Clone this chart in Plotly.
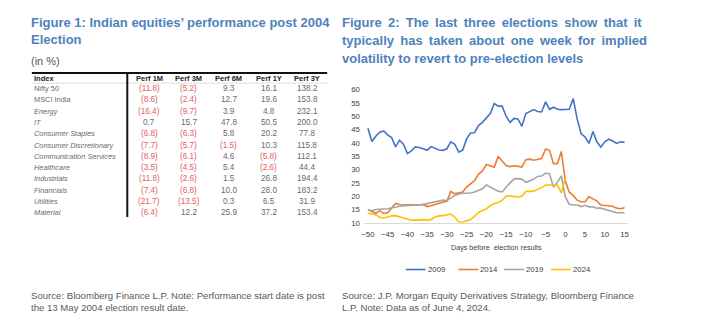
import plotly.graph_objects as go

W, H = 713, 328

# ---------------- Data: Figure 1 table ----------------
table_index = ["Nifty 50", "MSCI India", "Energy", "IT", "Consumer Staples",
               "Consumer Discretionary", "Communication Services", "Healthcare",
               "Industrials", "Financials", "Utilities", "Material"]
table_italic = [False, False, True, True, True, True, True, True, True, True, True, True]
table_columns = ["Perf 1M", "Perf 3M", "Perf 6M", "Perf 1Y", "Perf 3Y"]
perf_1m = [-11.8, -8.6, -16.4, 0.7, -6.8, -7.7, -8.9, -3.5, -11.8, -7.4, -21.7, -6.4]
perf_3m = [-5.2, -2.4, -9.7, 15.7, -6.3, -5.7, -6.1, -4.5, -2.6, -6.8, -13.5, 12.2]
perf_6m = [9.3, 12.7, 3.9, 47.8, 5.8, -1.5, 4.6, 5.4, 1.5, 10.0, 0.3, 25.9]
perf_1y = [16.1, 19.6, 4.8, 50.5, 20.2, 10.3, -5.8, -2.6, 26.8, 28.0, 6.5, 37.2]
perf_3y = [138.2, 153.8, 232.1, 200.0, 77.8, 115.8, 112.1, 44.4, 194.4, 183.2, 31.9, 153.4]

# ---------------- Data: Figure 2 chart ----------------
days = list(range(-50, 16))
days_2024 = list(range(-50, 1))
vol_2009 = [45.5, 40.5, 42.5, 44.0, 44.5, 43.0, 42.0, 38.5, 41.0, 39.5,
            36.0, 37.0, 38.5, 38.3, 37.8, 37.2, 38.6, 37.8, 37.3, 37.2,
            37.8, 40.4, 39.5, 36.5, 37.3, 41.5, 43.7, 43.8, 46.5, 47.7,
            49.5, 51.0, 54.8, 53.8, 53.8, 50.0, 47.7, 49.2, 49.0, 46.2,
            51.0, 51.8, 52.5, 51.8, 51.6, 55.4, 52.6, 53.4, 52.6, 52.5,
            52.5, 52.6, 56.6, 49.0, 43.5, 42.2, 39.8, 44.3, 40.4, 38.4,
            40.4, 41.4, 40.7, 39.8, 40.4, 40.2]
vol_2014 = [14.9, 14.2, 13.6, 14.5, 13.5, 13.8, 15.5, 17.3, 16.9, 16.7,
            16.8, 16.7, 16.6, 16.7, 16.9, 16.1, 16.4, 16.9, 17.3, 17.7,
            18.1, 21.8, 20.9, 21.3, 21.6, 23.4, 24.6, 25.8, 28.2, 29.5,
            31.9, 31.5, 30.9, 34.9, 33.1, 31.5, 31.1, 31.4, 31.2, 30.9,
            33.7, 33.9, 33.5, 33.7, 34.1, 37.7, 37.2, 32.2, 32.2, 36.8,
            25.8, 21.5, 20.3, 18.5, 17.9, 17.9, 19.9, 19.0, 18.2, 16.7,
            16.5, 16.4, 16.2, 15.5, 15.3, 15.7]
vol_2019 = [14.9, 14.5, 15.0, 15.2, 15.2, 15.3, 15.6, 16.1, 16.2, 16.3,
            16.4, 16.6, 16.6, 16.8, 16.9, 17.2, 17.5, 17.7, 18.2, 18.5,
            18.3, 19.2, 20.3, 20.8, 21.1, 21.1, 21.2, 21.6, 22.1, 22.8,
            24.2, 23.4, 22.8, 21.9, 21.6, 23.4, 25.0, 26.4, 26.6, 26.4,
            25.2, 25.8, 26.4, 27.4, 27.6, 28.6, 28.4, 23.4, 25.2, 27.6,
            19.7, 17.0, 16.7, 16.7, 16.1, 16.6, 16.0, 16.0, 15.5, 15.5,
            15.1, 14.7, 14.3, 13.8, 13.8, 13.8]
vol_2024 = [13.6, 13.4, 13.0, 12.1, 11.8, 12.2, 12.6, 12.7, 12.2, 11.8,
            11.2, 11.0, 11.0, 11.2, 11.2, 11.0, 11.2, 12.2, 12.6, 12.7,
            13.0, 13.3, 12.1, 10.4, 10.2, 10.6, 11.2, 12.4, 13.9, 14.6,
            15.3, 16.4, 17.2, 17.6, 18.5, 20.0, 20.1, 19.9, 19.7, 20.0,
            21.8, 21.8, 21.9, 22.6, 23.2, 24.2, 24.2, 24.2, 24.2, 21.2,
            26.8]
series_names = ["2009", "2014", "2019", "2024"]
series_colors = ["#4472C4", "#ED7D31", "#A5A5A5", "#FFC000"]
y_ticks = [10, 15, 20, 25, 30, 35, 40, 45, 50, 55, 60]
x_ticks = [-50, -45, -40, -35, -30, -25, -20, -15, -10, -5, 0, 5, 10, 15]


def px(x):
    return x / W


def py(y):
    return 1 - y / H


TITLE_BLUE = "#4F81BD"
TEXT_GRAY = "#595959"
RED = "#E35D60"
FONT = "Liberation Sans, Arial, sans-serif"

fig = go.Figure()

series_x = [days, days, days, days_2024]
series_y = [vol_2009, vol_2014, vol_2019, vol_2024]
for name, xs, ys, col in zip(series_names, series_x, series_y, series_colors):
    fig.add_trace(go.Scatter(x=xs, y=ys, mode="lines", name=name,
                             line=dict(color=col, width=1.6), showlegend=False))

annotations = []
shapes = []


def text(t, x, y, size, color, anchor="left", family=FONT):
    annotations.append(dict(text=t, x=px(x), y=py(y), xref="paper", yref="paper",
                            xanchor=anchor, yanchor="middle", showarrow=False,
                            borderpad=0, font=dict(family=family, size=size, color=color)))


# ---------- Titles ----------
left_title = ["Figure 1: Indian equities\u2019 performance post 2004", "Election"]
for i, t in enumerate(left_title):
    text("<b>%s</b>" % t, 27, 19 + 18 * i, 13, TITLE_BLUE)
right_title = ["Figure 2: The last three elections show that it",
               "typically has taken about one week for implied",
               "volatility to revert to pre-election levels"]
# emulate the justified paragraph: widen word gaps on the first two lines
gap_extra = ["\u2009", "\u2009", ""]
for i, t in enumerate(right_title):
    t2 = (" " + gap_extra[i]).join(t.split(" "))
    text("<b>%s</b>" % t2, 340, 19 + 18.5 * i, 13, TITLE_BLUE)
text("(in %)", 27, 59, 11, TEXT_GRAY)

# ---------- Footers ----------
left_foot = ["Source: Bloomberg Finance L.P. Note: Performance start date is post",
             "the 13 May 2004 election result date."]
right_foot = ["Source: J.P. Morgan Equity Derivatives Strategy, Bloomberg Finance",
              "L.P. Note: Data as of June 4, 2024."]
for i, t in enumerate(left_foot):
    text(t, 27, 300 + 12.5 * i, 9.6, TEXT_GRAY)
for i, t in enumerate(right_foot):
    text(t, 340, 300 + 12.5 * i, 9.6, TEXT_GRAY)

# ---------- Table ----------
col_centers = [147, 187, 227, 267, 306]
header_y = 76.3
row0_y = 87.0
row_h = 11.6
shapes.append(dict(type="line", xref="paper", yref="paper", x0=px(29), x1=px(326), y0=py(71), y1=py(71),
                   line=dict(color="#111111", width=2)))
shapes.append(dict(type="line", xref="paper", yref="paper", x0=px(29), x1=px(326), y0=py(81.3), y1=py(81.3),
                   line=dict(color="#C8C8C8", width=0.6)))
shapes.append(dict(type="line", xref="paper", yref="paper", x0=px(125), x1=px(125), y0=py(70.5), y1=py(219),
                   line=dict(color="#111111", width=2)))
text("<b>Index</b>", 30, header_y, 7.5, "#222222")
for c, cx in zip(table_columns, col_centers):
    text("<b>%s</b>" % c, cx, header_y, 7.5, "#222222", anchor="center")


def fmt(v):
    return "(%.1f)" % abs(v) if v < 0 else "%.1f" % v


cols = [perf_1m, perf_3m, perf_6m, perf_1y, perf_3y]
for r, name in enumerate(table_index):
    yy = row0_y + r * row_h
    label = "<i>%s</i>" % name if table_italic[r] else name
    text(label, 30, yy, 7.4, "#6A6A6A")
    for cvals, cx in zip(cols, col_centers):
        v = cvals[r]
        text(fmt(v), cx, yy, 8.2, RED if v < 0 else "#6A6A6A", anchor="center")

# ---------- Chart axis title and legend ----------
text("Days before  election results", 496, 250, 7.2, "#404040", anchor="center")
leg_x = [405, 458, 504, 551]
for name, col, lx in zip(series_names, series_colors, leg_x):
    shapes.append(dict(type="line", xref="paper", yref="paper", x0=px(lx), x1=px(lx + 20),
                       y0=py(273), y1=py(273), line=dict(color=col, width=1.6)))
    text(name, lx + 21, 273, 7.8, "#404040")

fig.update_layout(
    width=W, height=H,
    margin=dict(l=0, r=0, t=0, b=0),
    paper_bgcolor="white", plot_bgcolor="white",
    showlegend=False,
    annotations=annotations,
    shapes=shapes,
    xaxis=dict(domain=[px(363), px(629)], range=[-51, 16], tickvals=x_ticks,
               showgrid=False, zeroline=False, showline=True, linecolor="#D9D9D9", linewidth=1,
               ticks="", ticklabelstandoff=4,
               tickfont=dict(family=FONT, size=7.8, color="#404040")),
    yaxis=dict(domain=[py(225), py(88)], range=[10, 60], tickvals=y_ticks,
               showgrid=False, zeroline=False, showline=False,
               ticks="", ticklabelstandoff=3,
               tickfont=dict(family=FONT, size=7.8, color="#404040")),
)

fig.write_html("out.html")
